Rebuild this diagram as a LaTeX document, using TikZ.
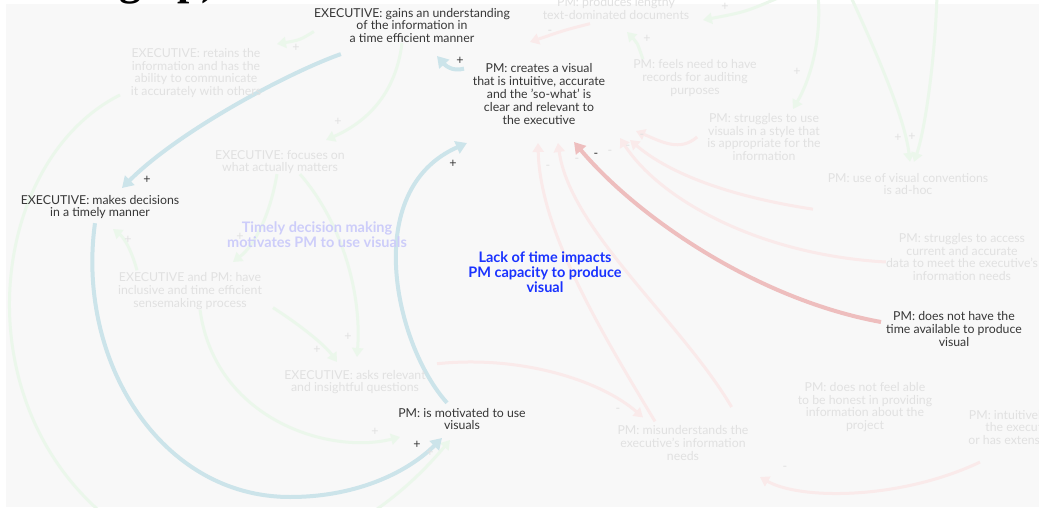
\documentclass[tikz,border=0pt]{standalone}
\usepackage{fontspec}
\setmainfont{Lato}
\newfontfamily\headfont{Liberation Serif}
\usetikzlibrary{arrows.meta}
\pgfdeclarelayer{back}
\pgfdeclarelayer{links}
\pgfsetlayers{back,links,main}
\definecolor{bg}{RGB}{248,248,248}
\definecolor{txt}{RGB}{55,55,55}
\definecolor{fadetxt}{RGB}{225,225,225}
\definecolor{mainblue}{RGB}{204,228,234}
\definecolor{mainred}{RGB}{238,190,190}
\definecolor{fadegreen}{RGB}{235,247,235}
\definecolor{fadered}{RGB}{250,234,234}
\definecolor{grpblue}{RGB}{25,50,255}
\definecolor{grplav}{RGB}{205,205,250}
\begin{document}
\begin{tikzpicture}[x=1pt,y=-1pt,
  lbl/.style={align=center, inner sep=0pt, font=\fontsize{12.3}{12.8}\selectfont, text=txt},
  faint/.style={lbl, text=fadetxt},
  grp/.style={align=center, inner sep=0pt, font=\bfseries\fontsize{14.5}{15}\selectfont},
  mainlink/.style={line width=4pt, -{Triangle[length=11pt,width=13pt]}},
  fadelink/.style={line width=3pt, -{Triangle[length=9pt,width=11pt]}},
  sign/.style={font=\fontsize{12.5}{12.5}\selectfont, text=txt, inner sep=0pt},
  fsign/.style={sign, text=fadetxt}
]
\useasboundingbox (0,0) rectangle (1039,508);
\begin{pgfonlayer}{back}
\fill[white] (0,0) rectangle (1039,508);
% clipped heading above the canvas
\node[anchor=base west, inner sep=0pt, font=\headfont\bfseries\fontsize{44}{44}\selectfont] (head) at (83,-5) {ing up)};
\fill[bg] (6,4) rectangle (1039,507);
\end{pgfonlayer}

% ---------- nodes ----------
\node[lbl] (gains) at (412,25.5) {EXECUTIVE: gains an understanding\\of the information in\\a time efficient manner};
\node[lbl] (creates) at (539,94) {PM: creates a visual\\that is intuitive, accurate\\and the 'so-what' is\\clear and relevant to\\the executive};
\node[lbl] (decide) at (100,207) {EXECUTIVE: makes decisions\\in a timely manner};
\node[lbl] (motiv) at (462,419) {PM: is motivated to use\\visuals};
\node[lbl] (notime) at (954,329) {PM: does not have the\\time available to produce\\visual};

\node[faint] (retains) at (196,73) {EXECUTIVE: retains the\\information and has the\\ability to communicate\\it accurately with others};
\node[faint] (focus) at (280,162) {EXECUTIVE: focuses on\\what actually matters};
\node[faint] (sense) at (190,291) {EXECUTIVE and PM: have\\inclusive and time efficient\\sensemaking process};
\node[faint] (asks) at (355,382) {EXECUTIVE: asks relevant\\and insightful questions};
\node[faint] (lengthy) at (616,8.5) {PM: produces lengthy\\text-dominated documents};
\node[faint] (feels) at (695,78) {PM: feels need to have\\records for auditing\\purposes};
\node[faint] (style) at (764,137) {PM: struggles to use\\visuals in a style that\\is appropriate for the\\information};
\node[faint] (conv) at (908,184) {PM: use of visual conventions\\is ad-hoc};
\node[faint] (access) at (962,257) {PM: struggles to access\\current and accurate\\data to meet the executive's\\information needs};
\node[faint] (honest) at (865,407) {PM: does not feel able\\to be honest in providing\\information about the\\project};
\node[faint] (intuit) at (1043,428.5) {PM: intuitively understands\\the executive's needs\\or has extensive experience};
\node[faint] (misund) at (683,443) {PM: misunderstands the\\executive's information\\needs};

\begin{pgfonlayer}{links}
% ---------- faint links ----------
\begin{scope}[fadegreen]
\draw[fadelink] ([shift={(0,6)}]gains.west) .. controls (300,40) .. (277,44);
\draw[fadelink] ([shift={(-76,-3)}]retains.south) .. controls (-10,160) and (-40,400) .. (110,520) .. controls (200,600) and (350,560) .. (450,440);
\draw[fadelink] ([shift={(-10,0)}]gains.south) .. controls (395,100) and (360,125) .. (326,140);
\draw[fadelink] ([shift={(-53,-2)}]sense.north) .. controls (130,245) and (122,236) .. (113,229);
\draw[fadelink] ([shift={(-3,0)}]focus.south) .. controls (270,215) and (255,245) .. (233,262);
\draw[fadelink] ([shift={(20,0)}]focus.south) .. controls (340,220) and (362,290) .. (357,357);
\draw[fadelink] ([shift={(83,-2)}]sense.south) .. controls (300,325) and (325,345) .. (337,362);
\draw[fadelink] ([shift={(10,0)}]sense.south) .. controls (215,420) and (330,455) .. (400,437);
\draw[fadelink] (778,-2) .. controls (745,12) .. (703,20);
\draw[fadelink] ([shift={(-52,0)}]feels.north) .. controls (637,42) .. (627,32);
\draw[fadelink] (818,-5) .. controls (822,40) and (810,80) .. ([shift={(29,-4)}]style.north);
\draw[fadelink] (850,-5) .. controls (880,60) and (905,120) .. ([shift={(2,-11)}]conv.north);
\draw[fadelink] (937,-5) .. controls (935,60) and (925,130) .. ([shift={(6,-11)}]conv.north);
\end{scope}
\begin{scope}[fadered]
\draw[fadelink] ([shift={(-26,4)}]lengthy.south) .. controls (565,30) .. (530,42);
\draw[fadelink] ([shift={(-28,-4)}]misund.north) .. controls (600,330) and (540,230) .. (538,143);
\draw[fadelink] ([shift={(-66,0)}]honest.west) .. controls (680,320) and (570,230) .. (558,143);
\draw[fadelink] ([shift={(0,5)}]access.west) .. controls (760,255) and (660,200) .. (620,138);
\draw[fadelink] ([shift={(-95,14)}]conv.south) .. controls (720,195) and (665,170) .. (630,140);
\draw[fadelink] ([shift={(-10,0)}]style.west) .. controls (680,152) and (662,142) .. (636,131);
\draw[fadelink] ([shift={(82,-6)}]asks.north) .. controls (520,355) and (600,380) .. ([shift={(-40,-8)}]misund.north);
\draw[fadelink] ([shift={(-63,15)}]intuit.south) .. controls (900,500) and (800,500) .. (760,477);
\end{scope}

% ---------- main links ----------
\draw[mainblue, mainlink] ([shift={(27,11)}]gains.south west) .. controls (290,72) and (180,130) .. (122,188);
\draw[mainblue, mainlink] ([shift={(-5,4)}]decide.south) .. controls (76,360) and (160,497) .. (290,497) .. controls (360,497) and (410,470) .. (442,438);
\draw[mainblue, mainlink] ([shift={(-15,-5)}]motiv.north) .. controls (395,345) and (360,190) .. (467,143);
\draw[mainblue, mainlink] ([shift={(-75,5)}]creates.north) .. controls (452,72) and (445,65) .. (437,56);
\draw[mainred, mainlink] ([shift={(-5,-7)}]notime.west) .. controls (760,300) and (640,220) .. (574,142);
\end{pgfonlayer}

% ---------- signs ----------
\node[fsign] (fs1) at (296,48) {+};
\node[fsign] (fs2) at (430,453) {+};
\node[fsign] (fs3) at (338,122) {+};
\node[fsign] (fs4) at (128,240) {+};
\node[fsign] (fs5) at (240,237) {+};
\node[fsign] (fs7) at (348,337) {+};
\node[fsign] (fs6) at (317,350) {+};
\node[fsign] (fs8) at (375,432) {+};
\node[fsign] (fs9) at (725,7) {+};
\node[fsign] (fs10) at (647,39) {+};
\node[fsign] (fs11) at (797,72) {+};
\node[fsign] (fs12) at (898,138) {+};
\node[fsign] (fs13) at (912,137) {+};
\node[fsign] (fr1) at (550,32) {-};
\node[fsign] (fr2) at (548,167) {-};
\node[fsign] (fr3) at (577,160) {-};
\node[fsign] (fr4) at (610,152) {-};
\node[fsign] (fr5) at (628,147) {-};
\node[fsign] (fr6) at (642,136) {-};
\node[fsign] (fr7) at (618,410) {-};
\node[fsign] (fr8) at (785,468) {-};
\node[sign] (s1) at (147,180) {+};
\node[sign] (s2) at (417,445) {+};
\node[sign] (s3) at (453,164) {+};
\node[sign] (s4) at (460,61) {+};
\node[sign] (s5) at (596,155) {-};

% ---------- group labels ----------
\node[grp, text=grpblue] (lack) at (545,272) {Lack of time impacts\\PM capacity to produce\\visual};
\node[grp, text=grplav] (timely) at (317,235) {Timely decision making\\motivates PM to use visuals};
\end{tikzpicture}
\end{document}
